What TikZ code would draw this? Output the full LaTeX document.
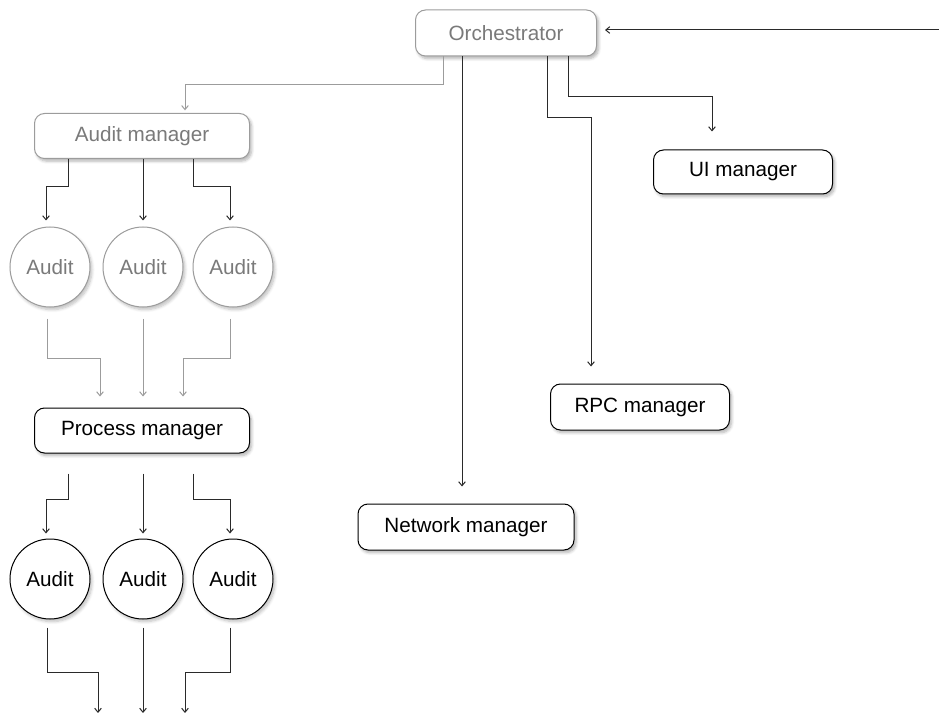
\documentclass[tikz,border=0pt]{standalone}
\usepackage{fontspec}
\setmainfont{Liberation Sans}
\usetikzlibrary{arrows.meta,calc,shadows.blur}
\definecolor{lgtxt}{HTML}{7A7A7A}
\definecolor{lgline}{HTML}{9C9C9C}
\definecolor{dkline}{HTML}{2A2A2A}
\begin{document}
\begin{tikzpicture}[x=0.75pt,y=-0.75pt,
  font=\fontsize{15.5}{18}\selectfont,
  boxbase/.style={rectangle,rounded corners=7.5pt,fill=white,line width=0.75pt,inner sep=0pt,
    blur shadow={shadow xshift=1.5pt,shadow yshift=-2pt,shadow blur steps=6,shadow opacity=30}},
  graybox/.style={boxbase,draw=lgline,text=lgtxt},
  darkbox/.style={boxbase,draw=black,text=black},
  circbase/.style={circle,minimum size=60pt,fill=white,line width=0.75pt,inner sep=0pt,
    blur shadow={shadow xshift=1.5pt,shadow yshift=-2pt,shadow blur steps=6,shadow opacity=25}},
  graycirc/.style={circbase,draw=lgline,text=lgtxt},
  darkcirc/.style={circbase,draw=black,text=black},
  darkarrow/.style={draw=dkline,line width=0.75pt,-{Straight Barb[length=3pt,width=5pt]}},
  grayarrow/.style={draw=lgline,line width=0.75pt,-{Straight Barb[length=3pt,width=5pt]}}
]
\useasboundingbox (0,0) rectangle (939,713);

% nodes
\node[graybox,minimum width=135.75pt,minimum height=34.5pt] (orch) at (506,33) {Orchestrator};
\node[graybox,minimum width=161.25pt,minimum height=33.75pt] (am) at (142,136) {Audit manager};
\node[darkbox,minimum width=134.25pt,minimum height=33pt] (ui) at (743,172) {UI manager};
\node[darkbox,minimum width=134.25pt,minimum height=34.5pt] (rpc) at (640,407) {RPC manager};
\node[darkbox,minimum width=161.25pt,minimum height=33.75pt] (pm) at (142,430.5) {Process manager};
\node[darkbox,minimum width=162pt,minimum height=34.5pt] (net) at (466,527) {Network manager};

\node[graycirc] (a1) at (50,267) {Audit};
\node[graycirc] (a2) at (143,267) {Audit};
\node[graycirc] (a3) at (233,267) {Audit};
\node[darkcirc] (b1) at (50,579) {Audit};
\node[darkcirc] (b2) at (143,579) {Audit};
\node[darkcirc] (b3) at (233,579) {Audit};

\coordinate (ext) at (939,30);
\coordinate (e1) at (98,713);
\coordinate (e2) at (143,713);
\coordinate (e3) at (185,713);

% orchestrator connectors
\draw[darkarrow,shorten >=6pt] (ext) -- (ext -| orch.east);
\draw[grayarrow,shorten >=2pt] ($(orch.south)+(-63,0)$) -- ++(0,28) -| ($(am.north)+(43,0)$);
\draw[darkarrow,shorten >=12.75pt] ($(orch.south)+(-44,0)$) -- ($(net.north)+(-4,0)$);
\draw[darkarrow,shorten >=12.75pt] ($(orch.south)+(41,0)$) -- ++(0,61) -| ($(rpc.north)+(-49,0)$);
\draw[darkarrow,shorten >=13.5pt] ($(orch.south)+(62,0)$) -- ++(0,40) -| ($(ui.north)+(-31,0)$);

% audit manager to audits
\draw[darkarrow,shorten >=4.5pt] ($(am.south)+(-74,0)$) -- ++(0,28) -| ($(a1.north)+(-4,0)$);
\draw[darkarrow,shorten >=4.5pt] ($(am.south)+(1,0)$) -- (a2.north);
\draw[darkarrow,shorten >=4.5pt] ($(am.south)+(51,0)$) -- ++(0,28) -| ($(a3.north)+(-3,0)$);

% audits to process manager
\draw[grayarrow,shorten >=8.25pt] ($(a1.south)+(-3,11)$) -- ++(0,40) -| ($(pm.north)+(-42,0)$);
\draw[grayarrow,shorten >=8.25pt] ($(a2.south)+(0,11)$) -- ($(pm.north)+(1,0)$);
\draw[grayarrow,shorten >=8.25pt] ($(a3.south)+(-3,11)$) -- ++(0,40) -| ($(pm.north)+(41,0)$);

% process manager to audits
\draw[darkarrow,shorten >=3.75pt] ($(pm.south)+(-74,20)$) -- ++(0,26) -| ($(b1.north)+(-4,0)$);
\draw[darkarrow,shorten >=3.75pt] ($(pm.south)+(1,20)$) -- (b2.north);
\draw[darkarrow,shorten >=3.75pt] ($(pm.south)+(51,20)$) -- ++(0,26) -| ($(b3.north)+(-3,0)$);

% audits to bottom
\draw[darkarrow] ($(b1.south)+(-3,8)$) -- ++(0,45) -| (e1);
\draw[darkarrow] ($(b2.south)+(0,8)$) -- (e2);
\draw[darkarrow] ($(b3.south)+(-3,8)$) -- ++(0,45) -| (e3);
\end{tikzpicture}
\end{document}
